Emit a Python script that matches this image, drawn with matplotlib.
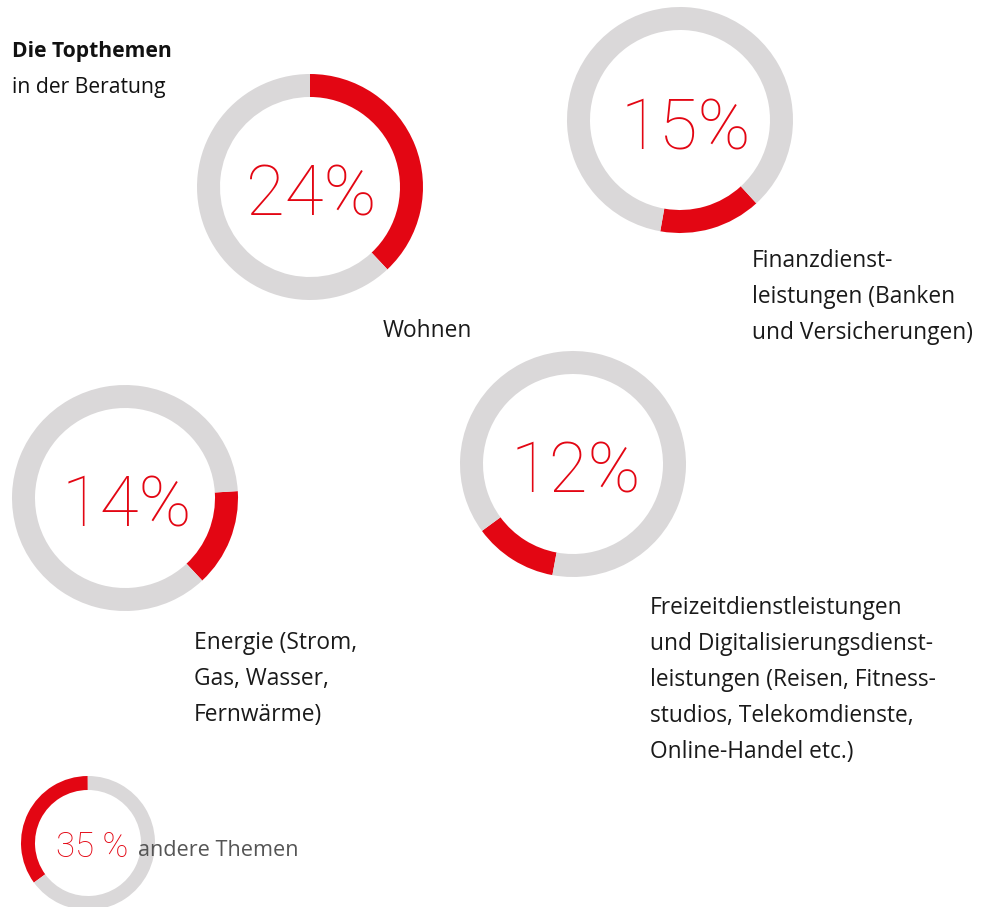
import matplotlib.pyplot as plt

# Werte
themen = ["Wohnen",
          "Finanzdienst-\nleistungen (Banken\nund Versicherungen)",
          "Energie (Strom,\nGas, Wasser,\nFernwärme)",
          "Freizeitdienstleistungen\nund Digitalisierungsdienst-\nleistungen (Reisen, Fitness-\nstudios, Telekomdienste,\nOnline-Handel etc.)",
          "andere Themen"]
anteile = ["24%", "15%", "14%", "12%", "35 %"]
# roter Bogen wie im Bild gezeichnet (in % des Kreises)
bogen = [38, 14.6, 14, 12, 35]

ROT = "#e30613"
GRAU = "#dad8d9"
W, H = 988, 907

# Layout in Pixeln (x, y von oben)
mitten = [(310, 187), (680, 120), (125, 498), (573, 464), (88, 843)]
radien = [113, 113, 113, 113, 67]
ringe = [23, 23, 23, 23, 14]
start = [0, 137.5, 86.5, 190.5, 233.8]   # Grad im Uhrzeigersinn ab 12 Uhr
zahl_pos = [(311, 196), (686, 130), (127, 507), (576, 473), (92, 847)]
zahl_size = [51, 51, 51, 51, 25]
text_pos = [(383, 331), (752, 261), (194, 643), (650, 608), (138, 850)]

fig = plt.figure(figsize=(W / 100, H / 100), dpi=100)
ax = fig.add_axes([0, 0, 1, 1])

for i in range(len(themen)):
    cx, cy = mitten[i]
    ax.pie([bogen[i], 100 - bogen[i]], center=(cx, H - cy), radius=radien[i],
           startangle=90 - start[i], counterclock=False, colors=[ROT, GRAU],
           wedgeprops=dict(width=ringe[i], linewidth=0))
    zx, zy = zahl_pos[i]
    ax.text(zx, H - zy, anteile[i], color=ROT, fontsize=zahl_size[i],
            family="Roboto", fontweight="light", ha="center", va="center")

# Beschriftungen
for i in range(4):
    tx, ty = text_pos[i]
    ax.text(tx, H - ty + 12, themen[i], color="#1a1a1a", fontsize=16.4,
            family="Open Sans", ha="left", va="top", linespacing=1.66)
tx, ty = text_pos[4]
ax.text(tx, H - ty, themen[4], color="#555555", fontsize=15.6,
        family="Open Sans", ha="left", va="center")

ax.text(12, H - 51, "Die Topthemen", fontsize=15.2, family="Open Sans",
        fontweight="bold", color="#111111", va="center")
ax.text(12, H - 87, "in der Beratung", fontsize=15.2, family="Open Sans",
        color="#111111", va="center")

ax.set_xlim(0, W)
ax.set_ylim(0, H)
ax.set_aspect("equal")
ax.set_axis_off()
fig.savefig("out.png", dpi=100)
